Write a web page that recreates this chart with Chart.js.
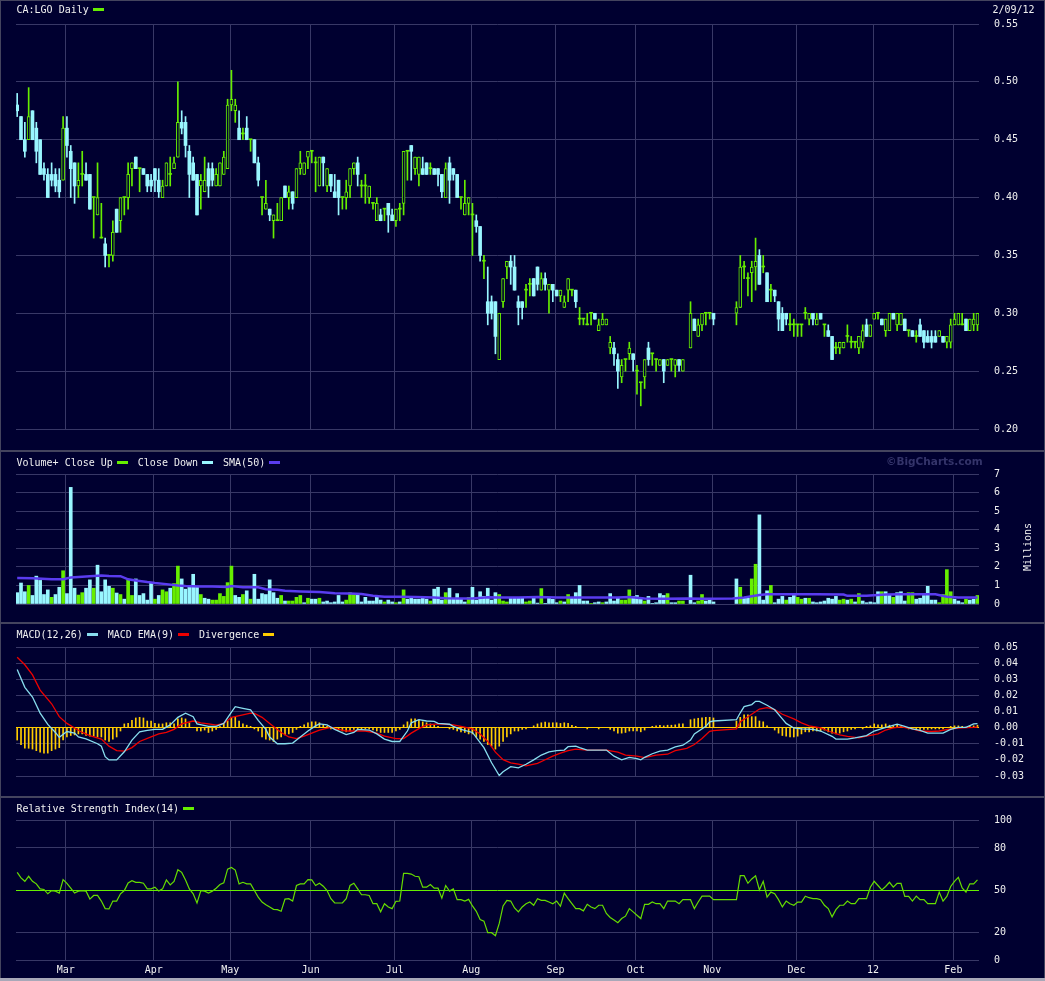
<!DOCTYPE html>
<html>
<head>
<meta charset="utf-8">
<script src="https://cdn.jsdelivr.net/npm/chart.js@4.4.0/dist/chart.umd.min.js"></script>
<style>
body { margin: 0; background: #000030; }
#wrap { position: relative; width: 1045px; height: 981px; background: #000030; overflow: hidden;
        font-family: "DejaVu Sans Mono", monospace; font-size: 10px; color: #f0f0f0; }
canvas { position: absolute; left: 0; }
.hd { position: absolute; left: 16.5px; height: 12px; display: flex; align-items: center; white-space: pre; }
.sw { display: block; width: 11px; height: 3px; margin: 0 10px 0 4px; }
.ln { position: absolute; background: #44445e; }
</style>
</head>
<body>
<div id="wrap">
  <canvas id="cPrice" width="1045" height="450" style="top:0"></canvas>
  <canvas id="cVol" width="1045" height="175" style="top:450px"></canvas>
  <canvas id="cMacd" width="1045" height="172" style="top:625px"></canvas>
  <canvas id="cRsi" width="1045" height="184" style="top:797px"></canvas>

  <div class="ln" style="left:0;top:0;width:1045px;height:1px"></div>
  <div class="ln" style="left:0;top:0;width:1px;height:981px"></div>
  <div class="ln" style="left:1044px;top:0;width:1px;height:981px"></div>
  <div class="ln" style="left:0;top:450px;width:1045px;height:2px"></div>
  <div class="ln" style="left:0;top:622px;width:1045px;height:2px"></div>
  <div class="ln" style="left:0;top:796px;width:1045px;height:2px"></div>
  <div class="ln" style="left:0;top:978px;width:1045px;height:3px;background:#a8a8b8"></div>

  <div class="hd" style="top:3px">CA:LGO Daily<i class="sw" style="background:#66ee00"></i></div>
  <div class="hd" style="top:3px;left:992.5px">2/09/12</div>
  <div class="hd" style="top:456px">Volume+ Close Up<i class="sw" style="background:#66ee00"></i>Close Down<i class="sw" style="background:#99f6ff"></i>SMA(50)<i class="sw" style="background:#5a3cf0"></i></div>
  <div class="hd" style="top:455px;left:886px;font-family:'DejaVu Sans',sans-serif;font-weight:bold;font-size:10.5px;color:#34346a">©BigCharts.com</div>
  <div class="hd" style="top:628px">MACD(12,26)<i class="sw" style="background:#88ddee"></i>MACD EMA(9)<i class="sw" style="background:#ee0000"></i>Divergence<i class="sw" style="background:#ffcc00"></i></div>
  <div class="hd" style="top:802px">Relative Strength Index(14)<i class="sw" style="background:#66ee00"></i></div>
  <div class="hd" style="top:541px;left:1003px;width:48px;justify-content:center;transform:rotate(-90deg)">Millions</div>
</div>
<script>
// trading-day index 0 = Feb 9 2011 ... 251 = Feb 9 2012 (null = no trade)
const monthStart = [13, 36, 56, 77, 99, 119, 141, 162, 182, 204, 224, 245];
const monthLabels = ['Mar', 'Apr', 'May', 'Jun', 'Jul', 'Aug', 'Sep', 'Oct', 'Nov', 'Dec', '12', 'Feb'];
const priceTicks = [0.20, 0.25, 0.30, 0.35, 0.40, 0.45, 0.50, 0.55];
const volTicks = [0, 1, 2, 3, 4, 5, 6, 7];
const macdTicks = [-0.03, -0.02, -0.01, 0, 0.01, 0.02, 0.03, 0.04, 0.05];
const rsiTicks = [0, 20, 50, 80, 100];

const open = [
  .48,.47,.45,.45,.475,.46,.45,.425,.42,.42,.42,.415,
  .415,.46,.44,.43,.41,.42,.42,.42,.40,.385,.365,.36,
  .35,.35,.39,.38,.40,.40,.425,.435,.425,.425,.42,.415,
  .425,.415,.40,.41,.42,.425,.435,.465,.465,.44,.43,.42,
  .41,.405,.425,.425,.41,.41,.42,.425,.48,.475,.46,.455,
  .46,.45,.45,.43,.40,.39,.39,.38,.38,.38,.41,.40,
  .405,.40,.425,.42,.435,.44,.43,.41,.435,.41,.42,.405,
  .415,.40,.40,.41,.425,.43,.41,.41,.40,.395,.38,.385,
  .39,.395,.385,.38,.39,.395,.44,.445,.425,.42,.425,.43,
  .425,.425,.425,.42,.40,.43,.425,.42,.40,.385,.395,.385,
  .38,.375,.345,.31,.31,.31,.26,.31,.34,.345,.34,.31,
  .31,.32,.325,.33,.34,.32,.33,.32,.325,.32,.315,.305,
  .32,.32,.32,.295,.295,.29,.30,.30,.285,.29,.29,.27,
  .27,.26,.245,.26,.265,.265,.25,.24,.245,.27,.265,.26,
  .255,.26,.255,.26,.255,.26,.25,null,.27,.295,.28,.29,
  .30,.30,.30,null,null,null,null,null,.30,.305,.34,.33,
  .335,.34,.35,.34,.335,.32,.32,.31,.30,.30,.29,.29,
  .29,.29,.30,.295,.30,.29,.30,.29,.285,.28,.27,.27,
  .27,.28,.275,.275,.27,.275,.29,.28,.295,.30,.295,.285,
  .285,.30,.29,.29,.295,.285,.285,.28,.29,.285,.28,.28,
  .28,.28,.28,.275,.275,.29,.29,.29,.295,.285,.29,.29
];
const high = [
  .49,.47,.465,.495,.475,.465,.45,.43,.425,.43,.425,.425,
  .47,.47,.445,.43,.43,.44,.43,.42,.40,.43,.395,.365,
  .35,.38,.39,.40,.40,.43,.43,.435,.425,.425,.42,.42,
  .425,.425,.415,.43,.435,.435,.50,.475,.47,.445,.435,.42,
  .42,.435,.43,.43,.425,.43,.44,.485,.51,.485,.475,.46,
  .47,.45,.45,.435,.40,.415,.39,.385,.395,.40,.41,.41,
  .405,.425,.44,.43,.44,.44,.435,.435,.435,.425,.42,.42,
  .415,.40,.415,.425,.43,.435,.415,.42,.41,.395,.40,.39,
  .39,.395,.39,.39,.395,.44,.44,.445,.435,.435,.435,.43,
  .43,.425,.425,.42,.43,.435,.425,.42,.40,.415,.40,.395,
  .385,.375,.35,.34,.315,.31,.30,.33,.345,.35,.35,.315,
  .31,.325,.33,.33,.34,.335,.335,.325,.325,.32,.32,.315,
  .33,.32,.32,.305,.295,.30,.30,.30,.295,.30,.295,.28,
  .275,.265,.26,.26,.275,.265,.255,.24,.26,.275,.265,.26,
  .26,.26,.26,.26,.26,.26,.26,null,.31,.295,.295,.30,
  .30,.30,.30,null,null,null,null,null,.31,.35,.345,.335,
  .345,.365,.355,.35,.335,.325,.32,.31,.305,.30,.30,.295,
  .29,.29,.305,.30,.30,.30,.30,.29,.29,.28,.275,.275,
  .275,.29,.28,.275,.28,.29,.295,.29,.30,.30,.295,.295,
  .30,.30,.30,.30,.295,.285,.285,.285,.295,.285,.285,.285,
  .285,.285,.28,.28,.295,.30,.30,.30,.295,.295,.30,.30
];
const low = [
  .47,.45,.435,.45,.45,.43,.42,.415,.40,.41,.405,.40,
  .415,.435,.40,.395,.40,.41,.415,.39,.365,.385,.365,.34,
  .34,.345,.37,.37,.385,.39,.41,.425,.405,.42,.405,.405,
  .405,.40,.40,.41,.41,.425,.435,.455,.435,.40,.415,.385,
  .39,.405,.40,.41,.41,.41,.42,.425,.475,.465,.45,.45,
  .45,.44,.43,.41,.385,.39,.38,.365,.38,.38,.40,.39,
  .39,.40,.42,.42,.425,.43,.405,.41,.41,.405,.405,.40,
  .385,.39,.39,.40,.42,.41,.40,.395,.395,.39,.38,.38,
  .38,.37,.38,.375,.38,.385,.415,.415,.42,.41,.42,.42,
  .42,.42,.41,.40,.40,.395,.415,.40,.39,.385,.385,.35,
  .37,.345,.33,.29,.295,.265,.26,.305,.33,.325,.32,.29,
  .295,.305,.315,.315,.32,.32,.32,.30,.31,.315,.31,.305,
  .31,.315,.305,.29,.29,.29,.29,.295,.285,.29,.29,.265,
  .255,.235,.24,.25,.26,.25,.23,.22,.235,.255,.255,.25,
  .255,.24,.255,.25,.245,.25,.25,null,.27,.285,.28,.285,
  .29,.295,.29,null,null,null,null,null,.29,.305,.33,.315,
  .31,.32,.325,.335,.31,.31,.31,.285,.285,.29,.285,.28,
  .28,.28,.295,.29,.29,.29,.295,.28,.28,.26,.265,.265,
  .27,.275,.27,.27,.265,.27,.28,.28,.295,.295,.29,.28,
  .285,.295,.285,.29,.285,.28,.28,.275,.28,.27,.275,.27,
  .275,.28,.275,.27,.27,.29,.29,.29,.285,.285,.285,.285
];
const close = [
  .475,.45,.44,.47,.45,.44,.42,.42,.40,.415,.41,.405,
  .46,.445,.425,.41,.415,.42,.415,.39,.40,.40,.365,.35,
  .35,.37,.37,.40,.40,.42,.43,.425,.425,.42,.41,.41,
  .415,.405,.41,.43,.42,.43,.465,.46,.445,.42,.415,.385,
  .415,.415,.41,.415,.42,.43,.435,.48,.485,.48,.45,.455,
  .45,.45,.43,.415,.40,.395,.385,.385,.38,.40,.40,.405,
  .395,.425,.43,.43,.44,.44,.43,.435,.43,.425,.41,.40,
  .40,.40,.405,.425,.43,.42,.41,.41,.41,.395,.395,.38,
  .39,.385,.38,.39,.39,.44,.44,.44,.435,.435,.42,.42,
  .425,.42,.42,.405,.425,.415,.42,.40,.40,.395,.40,.385,
  .375,.35,.345,.30,.30,.28,.30,.33,.345,.34,.32,.305,
  .305,.32,.325,.315,.325,.33,.325,.325,.32,.315,.32,.31,
  .33,.32,.31,.295,.295,.29,.30,.295,.29,.295,.295,.275,
  .265,.25,.255,.26,.27,.26,.25,.24,.26,.26,.265,.26,
  .26,.25,.26,.26,.26,.255,.26,null,.30,.285,.29,.30,
  .30,.30,.295,null,null,null,null,null,.305,.34,.34,.33,
  .34,.345,.325,.34,.31,.32,.315,.295,.285,.295,.29,.29,
  .29,.29,.30,.30,.295,.295,.295,.29,.28,.26,.27,.275,
  .275,.28,.275,.275,.28,.285,.28,.29,.30,.30,.29,.295,
  .30,.295,.30,.30,.285,.285,.28,.28,.28,.275,.275,.275,
  .275,.285,.275,.28,.29,.295,.30,.29,.285,.295,.295,.30
];
// volume in millions, and close up (1) / close down (0) as coloured on the chart
const vol = [
  .61,1.13,.66,1.0,.46,1.5,1.27,.51,.76,.36,.51,.9,
  1.79,.56,6.28,.85,.48,.61,.85,1.3,.85,2.09,.66,1.3,
  .95,.85,.59,.51,.26,1.3,.46,1.35,.46,.56,.21,1.15,
  .26,.46,.76,.66,.85,1.1,2.04,1.35,.8,1.0,1.6,.95,
  .51,.31,.26,.21,.21,.56,.41,1.15,2.04,.46,.36,.51,
  .71,.26,1.6,.26,.56,.51,1.3,.61,.31,.46,.16,.16,
  .16,.36,.46,.07,.31,.26,.26,.31,.11,.16,.07,.11,
  .46,.11,.21,.61,.51,.51,.11,.36,.16,.16,.41,.21,
  .11,.21,.11,.07,.11,.76,.26,.36,.26,.26,.36,.26,
  .16,.8,.9,.21,.61,.85,.26,.56,.26,.11,.36,.9,
  .21,.66,.41,.85,.21,.61,.51,.16,.11,.31,.31,.31,
  .36,.11,.16,.36,.05,.83,.02,.3,.25,.07,.16,.11,
  .51,.36,.61,1.0,.16,.16,.02,.07,.11,.07,.11,.56,
  .16,.31,.21,.21,.76,.41,.46,.26,.16,.41,.02,.07,
  .56,.46,.56,.07,.07,.16,.16,null,1.55,.07,.16,.51,
  .16,.26,.11,null,null,null,null,null,1.35,.9,.31,.31,
  1.35,2.14,4.8,.21,.71,1.0,.07,.26,.41,.21,.36,.46,
  .36,.26,.31,.31,.11,.07,.11,.16,.31,.26,.41,.21,
  .26,.21,.26,.11,.56,.16,.07,.11,.07,.66,.66,.66,
  .51,.36,.61,.66,.16,.61,.61,.26,.31,.46,.95,.21,
  .21,.07,.51,1.85,.66,.26,.16,.07,.26,.21,.26,.46
];
const volUp = [
  0,0,0,1,0,0,0,0,0,1,0,0,
  1,0,0,0,1,1,0,0,1,0,0,0,
  0,1,0,1,0,1,1,0,0,0,0,0,
  1,0,1,1,0,1,1,0,0,0,0,0,
  1,0,0,1,1,1,1,1,1,0,0,1,
  0,1,0,0,0,0,0,0,0,1,0,1,
  1,1,1,0,1,0,0,1,0,0,0,0,
  0,0,1,1,1,0,0,0,0,0,0,0,
  1,0,0,1,0,1,0,0,0,0,0,0,
  1,0,0,0,1,0,0,0,0,0,1,0,
  0,0,0,0,0,0,1,1,1,0,0,0,
  0,1,1,0,0,1,0,0,0,0,1,0,
  1,0,0,0,0,0,1,0,0,1,0,0,
  0,0,1,1,1,0,0,0,1,0,0,0,
  0,0,1,0,0,1,1,0,0,0,1,1,
  0,0,0,0,0,0,0,0,0,1,0,0,
  1,1,0,0,0,1,0,0,0,1,0,0,
  1,1,0,1,0,0,0,0,0,0,0,1,
  1,0,1,0,1,0,0,0,0,0,1,0,
  0,1,0,0,0,1,1,0,0,0,0,0,
  0,1,1,1,1,0,0,0,1,0,0,1
];
const smaIdx = [0,4,9,12,14,16,19,22,24,27,29,31,34,36,39,42,44,48,51,55,56,59,63,65,68,70,74,79,83,87,
  90,93,96,100,104,109,112,116,119,123,126,131,136,141,147,152,157,160,164,169,175,180,187,190,194,196,
  201,209,216,217,222,227,231,240,243,246,251];
const smaVal = [1.40,1.38,1.33,1.33,1.43,1.46,1.50,1.53,1.51,1.50,1.33,1.27,1.18,1.13,1.07,1.00,0.97,0.94,0.94,0.92,
  0.97,0.90,0.90,0.80,0.77,0.71,0.67,0.64,0.58,0.56,0.54,0.44,0.39,0.39,0.38,0.35,0.31,0.30,0.30,0.36,
  0.35,0.35,0.38,0.35,0.35,0.35,0.35,0.38,0.30,0.28,0.30,0.28,0.30,0.35,0.48,0.53,0.53,0.53,0.51,0.44,
  0.44,0.51,0.53,0.53,0.39,0.35,0.35];

const macdIdx = [0,2,4,6,8,10,11,13,15,16,18,21,22,23,24,26,28,30,32,34,36,38,40,42,44,46,47,50,52,54,
  56,57,59,61,63,65,66,68,70,72,74,76,78,79,81,83,86,88,89,92,94,96,98,100,102,103,105,107,109,110,
  113,114,116,119,122,124,126,127,129,131,133,135,137,139,141,143,144,146,147,149,151,154,156,158,160,162,163,164,166,168,
  170,172,174,176,177,180,181,182,188,189,190,192,193,194,196,198,200,201,203,205,208,210,213,214,
  217,219,222,224,226,228,230,232,234,236,238,240,242,244,246,248,250,251];
const macdVal = [.036,.025,.019,.009,.002,-.003,-.006,-.0024,-.0034,-.0058,-.007,-.010,-.0115,-.018,-.020,-.020,-.015,-.0077,-.0026,-.0017,
  -.0011,-.0011,.0017,.0064,.009,.0068,.0023,.0008,.0008,.0026,
  .0096,.013,.012,.011,.0045,-.0011,-.0058,-.010,-.010,-.0096,-.0058,-.0021,.0011,.0023,.0017,-.0011,-.0043,-.003,-.0011,-.0015,
  -.0039,-.0071,-.0086,-.0086,-.0021,.003,.0049,.0041,.0039,.0026,
  .0021,.0008,-.0011,-.003,-.0124,-.0218,-.0297,-.0274,-.0242,-.025,-.0227,-.020,-.017,-.015,-.0143,-.0139,-.0118,-.0115,-.0124,-.0139,
  -.0139,-.0139,-.0177,-.020,-.0184,-.0192,-.020,-.0184,-.0162,-.0146,
  -.0139,-.012,-.0109,-.0077,-.0039,.0008,.0036,.0041,.0049,.0092,.013,.0143,.0163,.0163,.0139,.0111,.0054,.0026,-.0002,-.0008,
  -.0011,-.0021,-.0054,-.0071,
  -.0071,-.0064,-.0049,-.0021,-.0006,.0008,.0021,.0008,-.0008,-.0017,-.0034,-.0034,-.0034,-.0011,.0002,.0002,.0023,.0025];
const sigIdx = [0,2,4,6,9,11,13,15,17,19,22,24,26,28,30,32,35,37,39,41,43,46,48,50,52,54,56,59,61,62,
  64,66,69,71,73,75,77,79,82,84,86,89,91,94,96,99,101,103,105,107,110,112,114,116,119,121,123,125,127,129,
  131,133,136,138,140,142,144,146,149,151,154,157,159,162,164,167,170,172,175,177,179,181,182,188,189,192,194,196,198,200,
  203,205,207,210,212,215,217,220,222,225,227,229,231,234,236,239,241,244,247,250,251];
const sigVal = [.0436,.039,.0327,.0233,.0148,.0068,.0026,-.0002,-.003,-.0049,-.0071,-.0115,-.0143,-.0146,-.0124,-.0086,-.0058,-.0039,-.003,-.0011,
  .0023,.0041,.003,.0023,.0015,.0026,.0064,.0079,.009,.0088,
  .0064,.0026,-.003,-.0058,-.0068,-.0053,-.0034,-.0015,.0002,-.0011,-.0021,-.0021,-.0021,-.0034,-.0053,-.0068,-.0068,-.0034,-.0006,.0017,
  .0023,.0021,.0017,.0008,-.0008,-.0039,-.0086,-.0152,-.0199,-.0218,
  -.0227,-.0237,-.0222,-.0199,-.0177,-.0158,-.0143,-.0133,-.0139,-.0139,-.0139,-.0152,-.0171,-.0177,-.0186,-.0171,-.0165,-.0143,-.0128,-.0105,
  -.0068,-.0023,-.0018,-.0008,.0036,.0083,.0115,.0124,.0111,.0083,
  .0054,.003,.0011,-.0002,-.0021,-.0045,-.0054,-.0064,-.0053,-.0039,-.0015,-.0002,.0004,-.0008,-.0021,-.0024,-.0021,-.0008,-.0002,.0002,.0004];
const divergence = [
  -.0077,-.0105,-.0128,-.0128,-.0133,-.0143,-.0152,-.0158,-.0158,-.0143,-.0133,-.0124,
  -.0077,-.0058,-.0049,-.0045,-.0039,-.0039,-.0049,-.0053,-.0053,-.0058,-.0058,-.0077,
  -.0086,-.0071,-.0058,-.0021,.0023,.0026,.0045,.006,.0064,.006,.0041,.0041,
  .0026,.0023,.0023,.003,.003,.0023,.0054,.006,.0054,.003,0,-.0021,
  -.0021,-.0015,-.003,-.0021,-.0011,.0008,.0023,.0041,.0064,.0064,.0041,.0023,
  .0015,.0008,-.0008,-.0021,-.0058,-.0071,-.0077,-.0086,-.0071,-.0058,-.0045,-.0039,
  -.003,-.0011,.0008,.0017,.003,.0036,.0036,.003,.0017,.0008,-.0008,-.0011,
  -.0015,-.0021,-.0026,-.0021,-.0011,-.0011,-.0008,-.0008,-.0008,-.0015,-.0021,-.003,
  -.003,-.003,-.003,-.0021,-.0011,.0017,.0036,.0054,.0054,.0045,.0036,.003,
  .0023,.0015,.0008,0,0,-.0008,-.0011,-.0021,-.0026,-.003,-.0039,-.0039,
  -.0058,-.0071,-.0086,-.0105,-.0115,-.0133,-.0115,-.0086,-.0058,-.0039,-.0021,-.0021,
  -.0011,-.0008,0,.0011,.0023,.003,.0034,.003,.003,.003,.0026,.003,
  .0026,.0015,.0008,0,0,-.0008,0,0,-.0008,0,0,-.0011,
  -.0021,-.0034,-.0034,-.003,-.0021,-.0021,-.0021,-.0026,-.0015,0,.0008,.0011,
  .0015,.0011,.0015,.0015,.0017,.0023,.0023,null,.0049,.0054,.0058,.006,
  .0064,.0064,.006,null,null,null,null,null,.0041,.0064,.0079,.0079,
  .0068,.0068,.0041,.0036,.0011,0,-.0015,-.0034,-.0049,-.0053,-.0058,-.0058,
  -.0053,-.0039,-.0026,-.0026,-.0021,-.0021,-.0021,-.0015,-.0026,-.0034,-.0039,-.0034,
  -.0026,-.0021,-.0011,-.0008,0,-.0008,.0008,.0011,.0023,.0017,.0017,.0023,
  .0015,.0011,.0015,.0008,0,-.0008,-.0008,-.0008,-.0011,-.0011,-.0011,-.0008,
  -.0008,-.0008,-.0008,0,.0008,.0011,.0011,.0008,.0004,.0008,.0011,.0015
];
const rsi = [
  62.6,58.6,56.2,59.8,56.2,54.4,50.8,50.4,47.3,49.6,49.2,47.8,
  57.4,54.8,51.3,47.8,49.2,49.6,49.2,43.5,46.1,46.1,42.1,36.7,
  36.5,42.1,42.1,47.3,49.6,55.1,56.7,55.5,55.5,54.8,50.8,50.8,
  52.0,49.2,50.8,57.2,53.6,56.2,64.5,62.6,57.2,50.8,47.3,40.7,
  49.6,49.2,47.8,49.2,51.3,53.9,55.1,64.9,66.1,64.2,54.4,55.5,
  54.4,54.4,49.6,44.9,41.4,39.5,37.9,36.2,36.0,34.8,43.5,43.8,
  42.1,53.2,54.4,54.4,57.4,57.2,53.2,54.8,52.7,49.6,43.8,40.7,
  40.7,40.7,43.8,53.2,54.8,50.8,46.6,46.6,46.1,40.2,40.2,34.4,
  40.2,37.9,36.7,41.9,42.1,61.9,61.9,61.4,59.8,59.5,52.0,52.0,
  53.9,51.3,51.3,44.2,53.2,49.2,50.8,43.1,43.1,42.1,43.3,38.6,
  34.8,28.9,27.8,19.5,19.5,17.4,26.1,38.6,42.6,42.1,37.2,34.4,
  37.9,40.2,41.4,39.1,43.8,42.6,42.6,41.4,40.2,42.1,38.4,47.8,
  43.8,40.2,36.7,36.7,35.1,39.8,37.9,36.7,39.1,39.1,33.2,30.4,
  28.5,26.6,29.6,31.3,36.7,34.4,32.0,29.6,39.8,39.8,41.4,40.2,
  40.2,36.7,42.1,42.1,42.1,40.2,43.1,null,43.1,36.7,41.4,45.6,
  45.6,45.6,43.1,null,null,null,null,null,43.1,60.2,60.2,54.8,
  57.9,60.2,50.1,56.2,44.9,48.5,47.3,43.1,37.9,42.1,40.2,39.1,
  41.4,41.4,45.6,44.5,43.8,43.8,43.1,39.1,36.7,30.8,36.0,39.1,
  39.1,42.1,40.2,40.2,43.8,43.8,43.8,52.0,56.2,53.2,50.1,52.5,
  55.5,52.0,54.8,54.8,45.4,45.4,42.1,45.6,43.1,43.1,40.2,40.2,
  40.2,48.5,42.1,45.4,52.5,56.2,59.1,51.5,48.5,54.4,54.4,57.2
];

const BG = '#000030', GRID = '#383866', TXT = '#f0f0f0';
const UP = '#66ee00', DOWN = '#99f6ff';
const FONT = { family: 'DejaVu Sans Mono', size: 10 };
const X_MIN = -0.31, X_MAX = 251.4;

function xScale(labels) {
    return {
        type: 'linear', min: X_MIN, max: X_MAX, offset: false,
        grid: { color: GRID, drawTicks: false, offset: false },
        border: { display: false },
        afterBuildTicks: function (s) { s.ticks = monthStart.map(m => ({ value: m - 0.3 })); },
        afterFit: function (s) { s.height = labels ? 19 : 0; },
        ticks: {
            display: labels, autoSkip: false, maxRotation: 0, padding: 4, color: TXT, font: FONT,
            callback: function (v, i) { return monthLabels[i]; }
        }
    };
}

function yScale(ticks, fmt, lineColor) {
    return {
        position: 'right', min: ticks[0], max: ticks[ticks.length - 1],
        grid: { color: lineColor || GRID, drawTicks: false },
        border: { display: false },
        afterBuildTicks: function (s) { s.ticks = ticks.map(v => ({ value: v })); },
        afterFit: function (s) { s.width = 66; },
        ticks: { padding: 15, color: TXT, font: FONT, callback: fmt }
    };
}

function makeChart(id, datasets, pad, y, labels) {
    return new Chart(document.getElementById(id), {
        type: 'bar',
        data: { datasets: datasets },
        options: {
            responsive: false, animation: false, events: [],
            layout: { padding: pad },
            plugins: { legend: { display: false }, tooltip: { enabled: false } },
            scales: { x: xScale(labels), y: y }
        }
    });
}

// candles: wick + body as floating bars
let wicks = [], bodies = [], wickCol = [], bodyFill = [], bodyEdge = [], bodyBw = [];
open.forEach(function (o, i) {
    if (o === null) return;
    let c = close[i];
    let col = c >= o ? UP : DOWN;
    wicks.push({ x: i, y: [low[i], high[i]] });
    bodies.push({ x: i, y: [o, c] });
    wickCol.push(col);
    if (c > o) { bodyFill.push(BG); bodyEdge.push(UP); bodyBw.push(1); }
    else { bodyFill.push(col); bodyEdge.push(col); bodyBw.push(0); }
});

makeChart('cPrice', [
    { data: wicks, backgroundColor: wickCol, barThickness: 1, grouped: false, order: 2 },
    { data: bodies, backgroundColor: bodyFill, borderColor: bodyEdge, borderWidth: bodyBw, borderSkipped: false,
      barThickness: 3, minBarLength: 1, grouped: false, order: 1 }
], { top: 24, bottom: 6, left: 16, right: 0 },
   yScale(priceTicks, v => v.toFixed(2)), false);

let volBars = [], volCol = [];
vol.forEach(function (v, i) {
    if (v === null) return;
    volBars.push({ x: i, y: v });
    volCol.push(volUp[i] ? UP : DOWN);
});
makeChart('cVol', [
    { type: 'line', data: smaIdx.map((x, k) => ({ x: x, y: smaVal[k] })), borderColor: '#5a3cf0',
      borderWidth: 2.5, pointRadius: 0, tension: 0, order: 1 },
    { data: volBars, backgroundColor: volCol, barThickness: 3, grouped: false, order: 2 }
], { top: 24, bottom: 9, left: 16, right: 0 },
   yScale(volTicks, v => String(v)), false);

let divBars = [];
divergence.forEach(function (d, i) { if (d !== null) divBars.push({ x: i, y: d }); });
makeChart('cMacd', [
    { type: 'line', data: macdIdx.map((x, k) => ({ x: x, y: macdVal[k] })), borderColor: '#88ddee',
      borderWidth: 1.3, pointRadius: 0, tension: 0, order: 1 },
    { type: 'line', data: sigIdx.map((x, k) => ({ x: x, y: sigVal[k] })), borderColor: '#ee0000',
      borderWidth: 1.3, pointRadius: 0, tension: 0, order: 2 },
    { data: divBars, backgroundColor: '#ffcc00', barThickness: 1, grouped: false, order: 3 }
], { top: 22, bottom: 8, left: 16, right: 0 },
   yScale(macdTicks, v => (Math.round(v * 100) / 100).toFixed(2),
          ctx => (ctx.tick && Math.abs(ctx.tick.value) < 1e-9) ? '#ffcc00' : GRID), false);

let rsiPts = [];
rsi.forEach(function (r, i) { if (r !== null) rsiPts.push({ x: i, y: r }); });
makeChart('cRsi', [
    { type: 'line', data: rsiPts, borderColor: '#66dd00', borderWidth: 1.2, pointRadius: 0, tension: 0 }
], { top: 23, bottom: 0, left: 16, right: 0 },
   yScale(rsiTicks, v => String(v), ctx => (ctx.tick && ctx.tick.value === 50) ? '#66ee00' : GRID), true);
</script>
</body>
</html>
